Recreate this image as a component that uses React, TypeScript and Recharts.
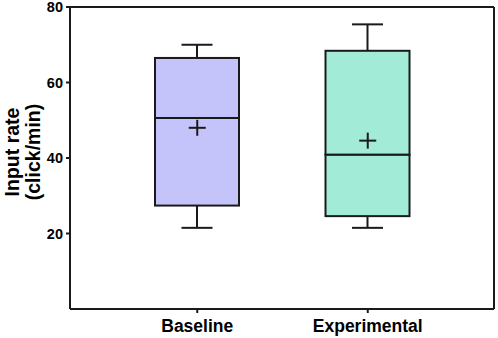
import { ComposedChart, Bar, Scatter, Line, XAxis, YAxis, Cell } from 'recharts';

// box plot summary
const groups = ['Baseline', 'Experimental'];
const minVals = [21.5, 21.5];
const q1Vals = [27.4, 24.6];
const medianVals = [50.6, 40.9];
const q3Vals = [66.5, 68.4];
const maxVals = [70, 75.4];
const meanVals = [48.0, 44.6];
const yTicks = [20, 40, 60, 80];

const fills = ['#c4c4fa', '#a2ebd7'];
const INK = '#1a1a1a';
const FONT = '"Liberation Sans", Arial, Helvetica, sans-serif';

const data = groups.map((name, i) => ({
  name,
  base: minVals[i],
  lowWhisker: q1Vals[i] - minVals[i],
  lowBox: medianVals[i] - q1Vals[i],
  highBox: q3Vals[i] - medianVals[i],
  highWhisker: maxVals[i] - q3Vals[i],
  mean: meanVals[i],
}));

const CAP = 15.5;

const LowWhisker = (p: any) => {
  const cx = p.x + p.width / 2;
  const bottom = p.y + p.height;
  return (
    <g stroke={INK} strokeWidth={2}>
      <line x1={cx} y1={p.y} x2={cx} y2={bottom} />
      <line x1={cx - CAP} y1={bottom} x2={cx + CAP} y2={bottom} />
    </g>
  );
};

const HighWhisker = (p: any) => {
  const cx = p.x + p.width / 2;
  return (
    <g stroke={INK} strokeWidth={2}>
      <line x1={cx} y1={p.y} x2={cx} y2={p.y + p.height} />
      <line x1={cx - CAP} y1={p.y} x2={cx + CAP} y2={p.y} />
    </g>
  );
};

const BoxPart = (p: any) => (
  <rect x={p.x} y={p.y} width={p.width} height={p.height} fill={p.fill} stroke={INK} strokeWidth={2} />
);

const MeanCross = (p: any) => {
  const { cx, cy } = p;
  return (
    <g stroke={INK} strokeWidth={2}>
      <line x1={cx - 8.5} y1={cy} x2={cx + 8.5} y2={cy} />
      <line x1={cx} y1={cy - 8} x2={cx} y2={cy + 8} />
    </g>
  );
};

const YTitle = () => (
  <g fontFamily={FONT} fontWeight="bold" fontSize={19.5} fill="#000">
    <text x={12} y={152} transform="rotate(-90, 12, 152)" textAnchor="middle" dominantBaseline="central">
      Input rate
    </text>
    <text x={33} y={152} transform="rotate(-90, 33, 152)" textAnchor="middle" dominantBaseline="central">
      (click/min)
    </text>
  </g>
);

export default function App() {
  return (
    <div style={{ position: 'absolute', left: 0, top: 0, background: '#fff' }}>
      <ComposedChart
        width={498}
        height={338}
        data={data}
        margin={{ top: 6, right: 3, left: 0, bottom: 0 }}
        barSize={84}
      >
        <XAxis
          dataKey="name"
          height={29}
          padding={{ left: 42, right: 41 }}
          axisLine={{ stroke: INK, strokeWidth: 2 }}
          tickLine={{ stroke: INK, strokeWidth: 2 }}
          tickSize={4}
          tickMargin={7}
          tick={{ fill: '#000', fontFamily: FONT, fontWeight: 'bold', fontSize: 17.5 }}
        />
        {/* frame: top and right edges */}
        <XAxis
          xAxisId="top"
          orientation="top"
          dataKey="name"
          height={1}
          tick={false}
          tickLine={false}
          axisLine={{ stroke: INK, strokeWidth: 2 }}
        />
        <YAxis
          width={70}
          domain={[0, 80]}
          ticks={yTicks}
          interval={0}
          axisLine={{ stroke: INK, strokeWidth: 2 }}
          tickLine={{ stroke: INK, strokeWidth: 2 }}
          tickSize={4}
          tickMargin={3}
          tick={{ fill: '#000', fontFamily: FONT, fontWeight: 'bold', fontSize: 14.5 }}
        />
        <YAxis
          yAxisId="right"
          orientation="right"
          width={1}
          domain={[0, 80]}
          tick={false}
          tickLine={false}
          axisLine={{ stroke: INK, strokeWidth: 2 }}
        />
        <Bar dataKey="base" stackId="box" fill="none" isAnimationActive={false} />
        <Bar dataKey="lowWhisker" stackId="box" shape={LowWhisker} isAnimationActive={false} />
        <Bar dataKey="lowBox" stackId="box" shape={BoxPart} isAnimationActive={false}>
          {data.map((d, i) => (
            <Cell key={d.name} fill={fills[i]} />
          ))}
        </Bar>
        <Bar dataKey="highBox" stackId="box" shape={BoxPart} isAnimationActive={false}>
          {data.map((d, i) => (
            <Cell key={d.name} fill={fills[i]} />
          ))}
        </Bar>
        <Bar dataKey="highWhisker" stackId="box" shape={HighWhisker} isAnimationActive={false} />
        <Scatter dataKey="mean" shape={MeanCross} isAnimationActive={false} />
        <Line
          xAxisId="top"
          yAxisId="right"
          dataKey="mean"
          stroke="none"
          dot={false}
          activeDot={false}
          isAnimationActive={false}
        />
        <YTitle />
      </ComposedChart>
    </div>
  );
}
